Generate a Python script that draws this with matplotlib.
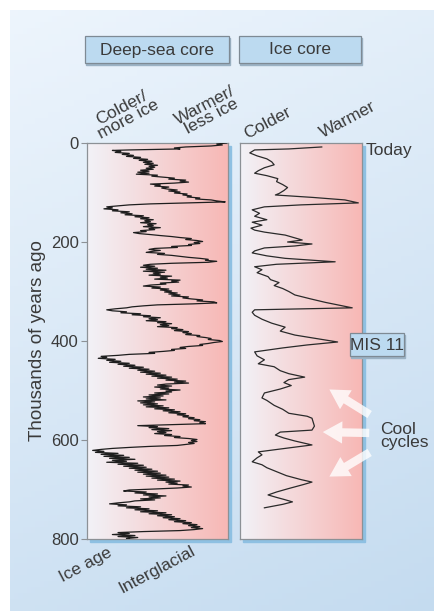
import numpy as np
import matplotlib
matplotlib.use("Agg")
import matplotlib.pyplot as plt
from matplotlib.patches import Rectangle

# deep-sea core, warmth index (0 = colder/more ice, 100 = warmer/less ice)
deep_age = [0, 2, 4, 6, 8, 10, 12, 14, 15, 17, 19,
            21, 23, 25, 27, 29, 31, 33, 35, 37, 39, 41, 43, 45, 47, 49, 51, 53, 55, 57, 59,
            61, 63, 65, 67, 69, 71, 73, 75, 77, 79, 81, 83, 85, 87, 89, 91, 93, 95, 97, 99,
            101, 103, 105, 107, 109, 111, 113, 115, 117, 119,
            121, 123, 125, 127, 129, 131, 133, 135, 137, 139, 141, 143, 145, 147, 149, 151, 153, 155, 157, 159,
            161, 163, 165, 167, 169, 171, 173, 175, 177, 179, 181, 183,
            185, 187, 189, 191, 193, 195, 197, 199, 201, 203, 205, 207, 209, 211, 213, 215, 217, 219, 221, 223,
            225, 227, 229, 231, 233, 235, 237, 239, 241,
            243, 245, 247, 249, 251, 253, 255, 257, 259, 261, 263, 265, 267, 269, 271, 273, 275, 277, 279, 281,
            283, 285, 287, 289, 291, 293, 295, 297, 299, 301, 303, 305, 307, 309, 311, 313, 315, 317, 319, 321,
            323, 325,
            327, 329, 331, 333, 335, 337, 339, 341, 343, 345, 347, 349, 351, 353, 355, 357, 359, 361, 363, 365,
            367, 369, 371, 373, 375, 377, 379, 381, 383, 385, 387, 389, 391, 393, 395, 397, 399, 401, 403, 405,
            407, 409, 411, 413, 415, 417, 419, 421, 423, 425, 427, 429, 431,
            433, 435, 437, 439, 441, 443, 445, 447, 449, 451, 453, 455, 457, 459, 461, 463, 465, 467, 469, 471,
            473, 475, 477, 479, 481, 483, 485, 487, 489, 491, 493, 495, 497, 499, 501, 503, 505, 507, 509, 511,
            513, 515, 517, 519, 521, 523, 525, 527, 529, 531, 533, 535, 537, 539, 541, 543, 545, 547, 549, 551,
            553, 555, 557, 559, 561, 563, 565,
            567, 569, 571, 573, 575, 577, 579, 581, 583, 585, 587, 589, 591, 593, 595, 597, 599, 601, 603, 605,
            607, 609, 611, 613, 615, 617, 619, 621,
            623, 625, 627, 629, 631, 633, 635, 637, 639, 641, 643, 645, 647, 649, 651, 653, 655, 657, 659, 661,
            663, 665, 667, 669, 671, 673, 675, 677, 679, 681, 683, 685, 687, 689, 691, 693, 695, 697,
            699, 701, 703, 705, 707, 709, 711, 713, 715, 717, 719, 721, 723, 725, 727, 729, 731, 733, 735, 737,
            739, 741, 743, 745, 747, 749, 751, 753, 755, 757, 759, 761, 763, 765, 767, 769, 771, 773, 775, 777,
            779, 781, 783, 785, 787, 789, 791, 793, 795, 797, 799, 800]
deep_val = [99, 92, 96, 88, 70, 62, 66, 30, 18, 24, 20,
            30, 25, 33, 28, 38, 33, 43, 37, 46, 40, 47, 41, 50, 44, 48, 42, 47, 38, 44, 36,
            44, 35, 50, 46, 54, 62, 58, 70, 66, 72, 62, 45, 52, 48, 58, 53, 57, 64, 58, 66,
            62, 71, 68, 74, 71, 80, 77, 88, 92, 98,
            70, 45, 30, 22, 14, 18, 12, 22, 18, 30, 24, 32, 27, 40, 34, 44, 38, 47, 41, 45,
            38, 49, 43, 47, 40, 52, 44, 48, 38, 42, 33, 37,
            45, 52, 60, 66, 74, 70, 78, 82, 76, 80, 72, 74, 60, 64, 48, 44, 52, 46, 42, 55,
            50, 60, 66, 72, 80, 86, 84, 92, 86,
            60, 45, 40, 48, 38, 50, 42, 56, 40, 55, 47, 52, 44, 60, 52, 57, 48, 66, 60, 65,
            52, 56, 45, 40, 52, 46, 58, 52, 60, 55, 64, 58, 66, 60, 72, 68, 74, 82, 78, 90,
            92, 75,
            50, 40, 32, 28, 20, 14, 18, 28, 24, 38, 32, 45, 40, 52, 44, 50, 42, 56, 50, 60,
            52, 58, 50, 64, 60, 68, 62, 72, 68, 74, 70, 80, 78, 84, 88, 86, 94, 96, 90, 86,
            80, 82, 72, 66, 70, 60, 62, 54, 44, 48, 30, 22, 10,
            14, 8, 20, 14, 24, 16, 30, 22, 34, 26, 40, 30, 44, 36, 48, 38, 52, 42, 56, 46,
            60, 50, 64, 56, 70, 62, 72, 56, 50, 60, 48, 58, 52, 66, 56, 60, 48, 58, 44, 54,
            40, 52, 42, 56, 36, 48, 38, 50, 40, 54, 42, 58, 48, 62, 54, 66, 58, 70, 64, 72,
            68, 76, 72, 80, 76, 84, 80,
            84, 60, 36, 50, 44, 58, 46, 60, 50, 56, 48, 60, 55, 66, 62, 72, 78, 74, 78, 72,
            76, 70, 64, 44, 30, 18, 10, 4,
            12, 6, 22, 10, 26, 12, 30, 16, 34, 18, 28, 14, 36, 22, 40, 26, 42, 30, 46, 34,
            50, 36, 52, 40, 56, 42, 58, 46, 62, 50, 66, 56, 64, 58, 72, 68, 74, 64,
            48, 30, 26, 42, 34, 50, 40, 56, 44, 52, 38, 48, 34, 30, 22, 16, 28, 22, 38, 28,
            44, 34, 50, 38, 56, 44, 60, 50, 62, 54, 66, 58, 70, 62, 74, 68, 78, 72, 80, 74,
            82, 76, 66, 40, 22, 30, 18, 34, 22, 36, 28, 30]

# ice core, warmth index (0 = colder, 100 = warmer)
ice_age = [8, 12, 14, 20, 26, 32, 38, 44, 50, 56, 61, 66, 72, 78, 84, 90, 96, 102, 105, 110,
           115, 121, 125, 129, 135, 142, 148, 155, 160, 166, 172, 176, 180, 186, 191, 196, 200, 204, 208, 212,
           218, 222, 228, 233, 240, 245, 250, 256, 262, 270, 276, 282, 288, 294, 300, 307, 315, 322, 328, 333,
           337, 342, 348, 356, 364, 372, 380, 388, 396, 402, 408, 414, 422, 430, 438, 446, 452, 460, 466, 473,
           478, 484, 490, 497, 505, 515, 520, 530, 538, 546, 552, 556, 564, 572, 580, 584, 590, 596, 602, 610,
           616, 624, 630, 636, 644, 650, 656, 664, 672, 680, 685, 690, 698, 705, 711, 716, 720, 725, 730, 737]
ice_val = [67, 40, 12, 8, 14, 22, 26, 28, 20, 15, 12, 22, 31, 30, 35, 39, 36, 32, 29, 60,
           86, 97, 50, 20, 10, 16, 12, 22, 10, 18, 9, 12, 20, 37, 44, 51, 39, 59, 45, 20,
           12, 10, 22, 37, 78, 30, 12, 18, 14, 23, 25, 32, 28, 35, 40, 45, 58, 70, 82, 92,
           12, 10, 12, 18, 26, 37, 33, 45, 65, 80, 55, 35, 12, 14, 20, 15, 28, 33, 40, 53,
           40, 36, 42, 33, 20, 18, 22, 28, 35, 40, 55, 59, 60, 61, 59, 33, 29, 36, 45, 59,
           40, 15, 18, 14, 10, 18, 22, 30, 38, 50, 59, 52, 40, 30, 23, 30, 36, 43, 35, 20]

age_ticks = [0, 200, 400, 600, 800]

W, H = 435, 611
FONT = "Liberation Sans"
TXT = "#3a3a3a"

fig = plt.figure(figsize=(W / 100, H / 100), dpi=100)


def fx(x):
    return x / W


def fy(y):
    return 1 - y / H


# background
bg = fig.add_axes([0, 0, 1, 1], zorder=0)
bg.set_xlim(0, W)
bg.set_ylim(H, 0)
bg.axis("off")
gy, gx = np.mgrid[0:1:100j, 0:1:100j]
t = np.clip(0.75 * gy + 0.25 * gx, 0, 1)[..., None]
c_top = np.array([0.93, 0.96, 0.99])
c_bot = np.array([0.77, 0.86, 0.94])
bg.imshow(c_top * (1 - t) + c_bot * t, extent=[10, W, H, 10], aspect="auto", zorder=0)

# panel geometry in pixels: left, top, right, bottom
panels = [(87, 143, 228, 539), (240, 143, 362, 539)]
for (l, tp, r, b) in panels:
    bg.add_patch(Rectangle((l + 3, tp + 3), r - l, b - tp, color="#8ec0e2", zorder=1))

grad = np.linspace(0, 1, 200)[None, :, None]
c_cold = np.array([0.95, 0.95, 0.97])
c_warm = np.array([0.97, 0.72, 0.71])
pink = c_cold * (1 - grad) + c_warm * grad

axes = []
for (l, tp, r, b) in panels:
    ax = fig.add_axes([fx(l), fy(b), fx(r - l), (b - tp) / H], zorder=2)
    ax.imshow(pink, extent=[0, 100, 800, 0], aspect="auto", zorder=0)
    ax.set_xlim(0, 100)
    ax.set_ylim(800, 0)
    ax.set_xticks([])
    for s in ax.spines.values():
        s.set_color("#8c9196")
        s.set_linewidth(0.9)
    axes.append(ax)

ax1, ax2 = axes
ax1.plot(deep_val, deep_age, color="#1e1e1e", lw=0.9, zorder=3)
ax2.plot(ice_val, ice_age, color="#2a2a2a", lw=0.9, zorder=3)

ax1.set_yticks(age_ticks)
ax1.set_yticklabels([str(a) for a in age_ticks], fontfamily=FONT, fontsize=12, color=TXT)
ax1.tick_params(axis="y", length=4, width=0.8, color="#8c9196", pad=2)
ax2.set_yticks([])

# overlay for texts, boxes and arrows
ov = fig.add_axes([0, 0, 1, 1], zorder=5)
ov.set_xlim(0, W)
ov.set_ylim(H, 0)
ov.axis("off")
ov.patch.set_alpha(0)

for (l, r, label) in [(85, 229, "Deep-sea core"), (239, 361, "Ice core")]:
    ov.add_patch(Rectangle((l + 1.5, 37.5), r - l, 27, color="#9bb2c4", zorder=1))
    ov.add_patch(Rectangle((l, 36), r - l, 27, facecolor="#bcdaf0", edgecolor="#7e8a94", lw=0.9, zorder=2))
    ov.text((l + r) / 2, 50, label, ha="center", va="center", fontfamily=FONT, fontsize=12.5, color=TXT, zorder=3)

rot_kw = dict(ha="center", va="center", rotation=28, fontfamily=FONT, fontsize=12.5,
              color=TXT, linespacing=0.85, rotation_mode="anchor")
ov.text(125, 114, "Colder/\nmore ice", **rot_kw)
ov.text(208, 111, "Warmer/\nless ice", **rot_kw)
ov.text(268, 123, "Colder", **rot_kw)
ov.text(348, 120, "Warmer", **rot_kw)
ov.text(86, 565, "Ice age", **rot_kw)
ov.text(157, 570, "Interglacial", **rot_kw)

ov.text(38, 341, "Thousands of years ago", ha="center", va="center", rotation=90,
        fontfamily=FONT, fontsize=13.5, color=TXT)
ov.text(366, 151, "Today", ha="left", va="center", fontfamily=FONT, fontsize=12.5, color=TXT)

ov.add_patch(Rectangle((351.5, 334.5), 54, 23, color="#9bb2c4", zorder=1))
ov.add_patch(Rectangle((350, 333), 54, 23, facecolor="#bcdaf0", edgecolor="#7e8a94", lw=0.9, zorder=2))
ov.text(377, 345, "MIS 11", ha="center", va="center", fontfamily=FONT, fontsize=12.5, color=TXT, zorder=3)

ov.text(380, 436, "Cool\ncycles", ha="left", va="center", fontfamily=FONT, fontsize=12.5,
        color=TXT, linespacing=0.85)

arrow_kw = dict(arrowstyle="simple,head_width=1.6,head_length=1.4,tail_width=0.6",
                color="white", alpha=0.8, mutation_scale=10, lw=0)
for (x0, y0, x1, y1) in [(372, 416, 327, 388), (372, 433, 320, 432), (372, 451, 327, 478)]:
    ov.annotate("", xy=(x1, y1), xytext=(x0, y0), arrowprops=arrow_kw)

fig.savefig("out.png", dpi=100)
